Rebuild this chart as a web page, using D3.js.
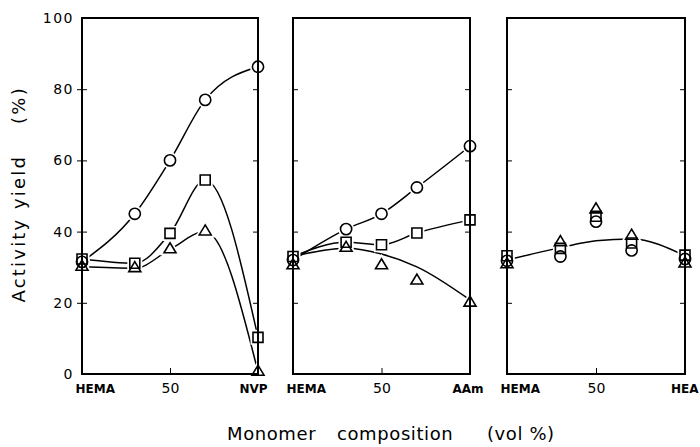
<!DOCTYPE html>
<html>
<head>
<meta charset="utf-8">
<script src="https://cdn.jsdelivr.net/npm/d3@7/dist/d3.min.js"></script>
<style>
  body { margin: 0; background: #fff; }
  text { font-family: "DejaVu Sans", sans-serif; fill: #000; }
</style>
</head>
<body>
<svg width="700" height="447"></svg>
<script>
// composition of the second monomer (vol %)
const xValues = [0, 30, 50, 70, 100];
const yTicks = [0, 20, 40, 60, 80, 100];
const endLabels = ["NVP", "AAm", "HEA"];

// HEMA / NVP
const nvpCircle = [31.5, 45, 60, 77, 86.3];
const nvpSquare = [32.3, 31.1, 39.5, 54.5, 10.3];
const nvpTriangle = [30.1, 29.7, 35, 40, 0.6];

// HEMA / AAm
const aamCircle = [32, 40.7, 45, 52.4, 64];
const aamSquare = [33, 37, 36.3, 39.6, 43.3];
const aamTriangle = [30.5, 35.4, 30.5, 26.2, 20];
const aamTriangleFit = [33, 35.3, 33.7, 30.1, 20.8];

// HEMA / HEA
const heaCircle = [31.8, 33, 42.8, 34.7, 32.3];
const heaSquare = [33.2, 35.3, 44.3, 36.8, 33.4];
const heaTriangle = [30.8, 37, 46.2, 38.8, 31];
const heaFit = [32, 35.5, 37.4, 37.9, 33.2];

const svg = d3.select("svg");
const TOP = 18, BOTTOM = 374;

const panels = [
    {x0: 82, x1: 258, end: endLabels[0], circle: nvpCircle, square: nvpSquare, triangle: nvpTriangle,
     lines: [nvpCircle, nvpSquare, nvpTriangle], outerTicks: true},
    {x0: 293, x1: 470, end: endLabels[1], circle: aamCircle, square: aamSquare, triangle: aamTriangle,
     lines: [aamCircle, aamSquare, aamTriangleFit]},
    {x0: 507, x1: 685, end: endLabels[2], circle: heaCircle, square: heaSquare, triangle: heaTriangle,
     lines: [heaFit]}
];

const y = d3.scaleLinear().domain([0, 100]).range([BOTTOM, TOP]);

function triPath(w, h) {
    return `M0,${-2 * h / 3}L${w / 2},${h / 3}L${-w / 2},${h / 3}Z`;
}

const shapes = [
    {key: "circle", d: d3.symbol(d3.symbolCircle, Math.PI * 5.6 * 5.6)()},
    {key: "square", d: "M-5,-5H5V5H-5Z"},
    {key: "triangle", d: triPath(12, 10)}
];

panels.forEach((p, pi) => {
    const x = d3.scaleLinear().domain([0, 100]).range([p.x0, p.x1]);
    const g = svg.append("g");

    // y ticks on both sides
    const inner = yTicks.filter(t => t > 0 && t < 100);
    g.append("g")
        .attr("transform", `translate(${p.x0},0)`)
        .call(d3.axisRight(y).tickValues(inner).tickSize(5).tickFormat(""))
        .call(a => a.select(".domain").remove());
    if (p.outerTicks) {
        g.append("g")
            .attr("transform", `translate(${p.x0},0)`)
            .call(d3.axisLeft(y).tickValues(yTicks).tickSize(5).tickPadding(3).tickFormat(d3.format("d")))
            .call(a => a.select(".domain").remove())
            .call(a => a.selectAll(".tick line").filter(d => d === 0 || d === 100).remove())
            .call(a => a.selectAll("text")
                .attr("font-family", "DejaVu Sans").attr("font-size", 14)
                .attr("letter-spacing", 1.5).attr("fill", "#000"));
    }
    g.append("g")
        .attr("transform", `translate(${p.x1},0)`)
        .call(d3.axisLeft(y).tickValues(inner).tickSize(5).tickFormat(""))
        .call(a => a.select(".domain").remove());

    // x axis: tick at 50 pointing up, labels below
    g.append("g")
        .attr("transform", `translate(0,${BOTTOM})`)
        .call(d3.axisTop(x).tickValues([50]).tickSize(6).tickFormat(""))
        .call(a => a.select(".domain").remove());
    const xl = g.append("g")
        .attr("transform", `translate(0,${BOTTOM})`)
        .call(d3.axisBottom(x).tickValues([0, 50, 100]).tickSize(0).tickPadding(9)
            .tickFormat(d => d === 0 ? "HEMA" : d === 100 ? p.end : "50"))
        .call(a => a.select(".domain").remove());
    xl.selectAll("text")
        .attr("fill", "#000")
        .attr("font-family", "DejaVu Sans")
        .attr("font-weight", d => d === 50 ? "normal" : "bold")
        .attr("font-size", d => d === 50 ? 14 : 12)
        .attr("dy", d => d === 50 ? "0.71em" : "0.85em")
        .attr("text-anchor", d => d === 0 ? "start" : d === 100 ? "end" : "middle")
        .attr("dx", d => d === 0 ? -7 : d === 100 ? (pi === 0 ? 9 : 13) : 0);

    // fitted curves
    const line = d3.line()
        .x((d, i) => x(xValues[i]))
        .y(d => y(d))
        .curve(d3.curveMonotoneX);
    g.selectAll(".fit").data(p.lines).join("path")
        .attr("class", "fit")
        .attr("d", line)
        .attr("fill", "none").attr("stroke", "#000").attr("stroke-width", 1.5);

    // markers: white halos first, then outlines
    const pts = [];
    shapes.forEach(s => p[s.key].forEach((v, i) => pts.push({d: s.d, x: xValues[i], v})));
    g.selectAll(".halo").data(pts).join("path")
        .attr("class", "halo")
        .attr("d", d => d.d)
        .attr("transform", d => `translate(${x(d.x)},${y(d.v)})`)
        .attr("fill", "#fff").attr("stroke", "#fff").attr("stroke-width", 5);
    g.selectAll(".mark").data(pts).join("path")
        .attr("class", "mark")
        .attr("d", d => d.d)
        .attr("transform", d => `translate(${x(d.x)},${y(d.v)})`)
        .attr("fill", "none").attr("stroke", "#000").attr("stroke-width", 1.6);
});

// frames drawn last so halos do not cut them
panels.forEach(p => {
    svg.append("rect")
        .attr("x", p.x0).attr("y", TOP)
        .attr("width", p.x1 - p.x0).attr("height", BOTTOM - TOP)
        .attr("fill", "none").attr("stroke", "#000").attr("stroke-width", 2);
});

// y axis title
const yTitle = [["Activity", 260], ["yield", 182], ["(%)", 105]];
svg.selectAll(".ytitle").data(yTitle).join("text")
    .attr("class", "ytitle")
    .attr("transform", d => `translate(25,${d[1]}) rotate(-90)`)
    .attr("text-anchor", "middle")
    .attr("font-size", 18)
    .attr("letter-spacing", 2.2)
    .text(d => d[0]);

// x axis title
const xTitle = [["Monomer", 227], ["composition", 337], ["(vol %)", 487]];
svg.selectAll(".xtitle").data(xTitle).join("text")
    .attr("class", "xtitle")
    .attr("x", d => d[1]).attr("y", 440)
    .attr("font-size", 18)
    .attr("letter-spacing", 0.6)
    .text(d => d[0]);
</script>
</body>
</html>
